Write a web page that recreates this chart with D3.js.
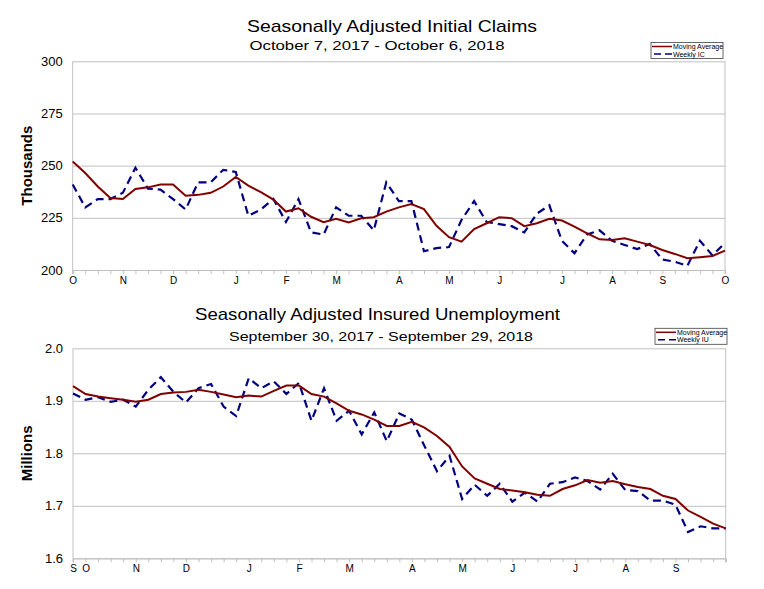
<!DOCTYPE html>
<html>
<head>
<meta charset="utf-8">
<script src="https://cdn.jsdelivr.net/npm/d3@7"></script>
<style>
  body { margin: 0; background: #fff; }
  svg { font-family: "Liberation Sans", Arial, sans-serif; }
</style>
</head>
<body>
<div id="chart"></div>
<script>
// weekly initial claims, thousands (Oct 7 2017 .. Oct 6 2018)
var IC_WEEKLY = [241, 230, 234, 234, 237, 249, 239, 238.5, 234, 229, 242, 242, 248, 247,
    226, 229, 234, 223, 234, 218, 217, 230, 226, 226, 219, 242, 233, 233, 209, 210.5,
    211, 224, 233, 223, 222, 221, 218, 227, 231, 214, 208, 217, 219, 214, 212, 210,
    212.5, 205, 204, 202, 214, 207, 213];
var IC_AVG = [252, 246.5, 240, 234.5, 234, 238.8, 239.6, 241, 241, 235.6, 236, 237, 240,
    244.6, 240.4, 237.3, 233.7, 228, 229.6, 225.5, 222.9, 224.5, 222.8, 224.8, 225.3,
    228, 230, 231.6, 229.2, 221.2, 215.7, 213.6, 219.6, 222.4, 225.3, 224.8, 221,
    222.4, 224.5, 223.7, 220.8, 217.6, 214.7, 214.4, 215.2, 213.6, 212, 209.6, 207.7,
    205.6, 206.1, 206.7, 209.3];
var IC_MONTHS = ['O', 'N', 'D', 'J', 'F', 'M', 'A', 'M', 'J', 'J', 'A', 'S', 'O'];
var IC_MONTH_WEEKS = [0, 4, 8, 13, 17, 21, 26, 30, 34, 39, 43, 47, 52];
var IC_TICKS = [200, 225, 250, 275, 300];

// weekly insured unemployment, millions (Sep 30 2017 .. Sep 29 2018)
var IU_WEEKLY = [1.914, 1.902, 1.907, 1.898, 1.902, 1.889, 1.921, 1.945, 1.917, 1.897,
    1.924, 1.932, 1.889, 1.871, 1.943, 1.924, 1.937, 1.913, 1.934, 1.862, 1.924, 1.862,
    1.881, 1.836, 1.878, 1.823, 1.876, 1.864, 1.814, 1.766, 1.795, 1.713, 1.740, 1.719,
    1.742, 1.708, 1.725, 1.708, 1.742, 1.745, 1.754, 1.747, 1.731, 1.761, 1.730, 1.728,
    1.710, 1.710, 1.702, 1.650, 1.661, 1.657, 1.657];
var IU_AVG = [1.928, 1.913, 1.908, 1.905, 1.902, 1.898, 1.902, 1.913, 1.916, 1.917,
    1.921, 1.917, 1.912, 1.907, 1.910, 1.908, 1.919, 1.929, 1.929, 1.913, 1.908, 1.895,
    1.881, 1.874, 1.864, 1.852, 1.852, 1.860, 1.849, 1.833, 1.812, 1.775, 1.752, 1.742,
    1.732, 1.729, 1.726, 1.721, 1.719, 1.732, 1.739, 1.749, 1.744, 1.747, 1.741, 1.736,
    1.732, 1.719, 1.713, 1.691, 1.679, 1.666, 1.657];
var IU_MONTHS = ['S', 'O', 'N', 'D', 'J', 'F', 'M', 'A', 'M', 'J', 'J', 'A', 'S'];
var IU_MONTH_WEEKS = [0, 1, 5, 9, 14, 18, 22, 27, 31, 35, 40, 44, 48];
var IU_TICKS = [1.6, 1.7, 1.8, 1.9, 2.0];

var AVG_COLOR = '#800000';
var WEEKLY_COLOR = '#000080';
var GRID = '#c0c0c0';

var WIDTH = 764, HEIGHT = 589;

var svg = d3.select('#chart').append('svg')
    .attr('width', WIDTH)
    .attr('height', HEIGHT);

svg.append('rect')
    .attr('width', WIDTH)
    .attr('height', HEIGHT)
    .attr('fill', '#fff');

function title(txt, x, y, size, len) {
    svg.append('text')
        .attr('x', x)
        .attr('y', y)
        .attr('text-anchor', 'middle')
        .attr('font-size', size)
        .attr('textLength', len)
        .attr('lengthAdjust', 'spacingAndGlyphs')
        .text(txt);
}

function panel(p) {
    var w = p.right - p.left, h = p.bottom - p.top;
    var g = svg.append('g')
        .attr('transform', 'translate(' + p.left + ', ' + p.top + ')');

    var sx = d3.scaleLinear().domain([0, p.weekly.length - 1]).range([0, w]);
    var sy = d3.scaleLinear().domain(d3.extent(p.ticks)).range([h, 0]);

    var ay = d3.axisLeft(sy)
        .tickValues(p.ticks)
        .tickSize(-w)
        .tickPadding(10)
        .tickFormat(p.fmt);
    var gy = g.append('g').call(ay);
    gy.select('.domain').remove();
    gy.selectAll('g.tick line').attr('stroke', GRID);
    gy.selectAll('g.tick text')
        .attr('font-size', 13)
        .attr('fill', '#000')
        .attr('font-family', null);

    var ax = d3.axisBottom(sx)
        .tickValues(d3.range(p.weekly.length))
        .tickSize(4)
        .tickPadding(3)
        .tickFormat(function(d) {
            var k = p.monthWeeks.indexOf(d);
            return k < 0 ? '' : p.months[k];
        });
    var gx = g.append('g')
        .attr('transform', 'translate(0, ' + h + ')')
        .call(ax);
    gx.select('.domain').attr('stroke', GRID);
    gx.selectAll('g.tick line').attr('stroke', GRID);
    gx.selectAll('g.tick text')
        .attr('font-size', 10)
        .attr('fill', '#000')
        .attr('font-family', null);

    // left axis and right border
    g.append('line').attr('x1', 0).attr('x2', 0).attr('y1', 0).attr('y2', h + 4)
        .attr('stroke', GRID);
    g.append('line').attr('x1', w).attr('x2', w).attr('y1', 0).attr('y2', h + 4)
        .attr('stroke', GRID);

    var line = d3.line()
        .x(function(d, i) { return sx(i); })
        .y(function(d) { return sy(d); });

    g.append('path')
        .datum(p.weekly)
        .attr('d', line)
        .attr('fill', 'none')
        .attr('stroke', WEEKLY_COLOR)
        .attr('stroke-width', 2.2)
        .attr('stroke-dasharray', '8,5');

    g.append('path')
        .datum(p.avg)
        .attr('d', line)
        .attr('fill', 'none')
        .attr('stroke', AVG_COLOR)
        .attr('stroke-width', 2);

    svg.append('text')
        .attr('transform', 'translate(' + p.labelX + ', ' + (p.top + h / 2) + ') rotate(-90)')
        .attr('text-anchor', 'middle')
        .attr('font-size', 15)
        .attr('font-weight', 'bold')
        .text(p.unit);

    // legend
    var lg = svg.append('g')
        .attr('transform', 'translate(' + p.legend[0] + ', ' + p.legend[1] + ')');
    lg.append('rect')
        .attr('width', 72)
        .attr('height', 16)
        .attr('fill', '#fff')
        .attr('stroke', '#404040')
        .attr('stroke-width', 0.8);
    lg.append('line').attr('x1', 1).attr('x2', 21).attr('y1', 4).attr('y2', 4)
        .attr('stroke', AVG_COLOR).attr('stroke-width', 1.5);
    lg.append('line').attr('x1', 3).attr('x2', 21).attr('y1', 11.5).attr('y2', 11.5)
        .attr('stroke', WEEKLY_COLOR).attr('stroke-width', 1.5)
        .attr('stroke-dasharray', '7,4');
    lg.append('text').attr('x', 22).attr('y', 6.5).attr('font-size', 7)
        .text('Moving Average');
    lg.append('text').attr('x', 22).attr('y', 14).attr('font-size', 7)
        .text(p.weeklyName);
}

title('Seasonally Adjusted Initial Claims', 392, 31.5, 17, 290);
title('October 7, 2017 - October 6, 2018', 377, 50, 13, 255);
title('Seasonally Adjusted Insured Unemployment', 377.5, 320, 17, 365);
title('September 30, 2017 - September 29, 2018', 381, 340.5, 13, 304);

panel({
    left: 72.7, right: 725, top: 61.3, bottom: 270,
    weekly: IC_WEEKLY, avg: IC_AVG,
    months: IC_MONTHS, monthWeeks: IC_MONTH_WEEKS,
    ticks: IC_TICKS, fmt: d3.format('d'),
    unit: 'Thousands', labelX: 32,
    weeklyName: 'Weekly IC', legend: [651, 42.5]
});

panel({
    left: 73, right: 725.7, top: 348.3, bottom: 558.3,
    weekly: IU_WEEKLY, avg: IU_AVG,
    months: IU_MONTHS, monthWeeks: IU_MONTH_WEEKS,
    ticks: IU_TICKS, fmt: d3.format('.1f'),
    unit: 'Millions', labelX: 32,
    weeklyName: 'Weekly IU', legend: [655, 328.3]
});
</script>
</body>
</html>
